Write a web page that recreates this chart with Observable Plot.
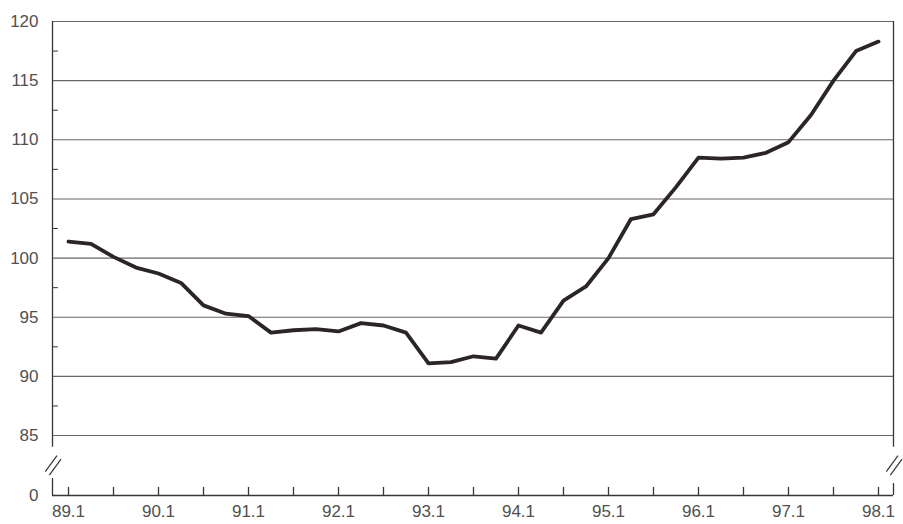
<!DOCTYPE html>
<html>
<head>
<meta charset="utf-8">
<script src="https://cdn.jsdelivr.net/npm/d3@7"></script>
<script src="https://cdn.jsdelivr.net/npm/@observablehq/plot@0.6"></script>
<style>
  html, body { margin: 0; padding: 0; background: #fff; }
  #chart { width: 903px; height: 524px; }
</style>
</head>
<body>
<div id="chart"></div>
<script>
// Quarter labels (year.quarter)
const quarters = [
  "89.1","89.2","89.3","89.4","90.1","90.2","90.3","90.4",
  "91.1","91.2","91.3","91.4","92.1","92.2","92.3","92.4",
  "93.1","93.2","93.3","93.4","94.1","94.2","94.3","94.4",
  "95.1","95.2","95.3","95.4","96.1","96.2","96.3","96.4",
  "97.1","97.2","97.3","97.4","98.1"
];
// Index values
const values = [
  101.4, 101.2, 100.1, 99.2, 98.7, 97.9, 96.0, 95.3,
  95.1, 93.7, 93.9, 94.0, 93.8, 94.5, 94.3, 93.7,
  91.1, 91.2, 91.7, 91.5, 94.3, 93.7, 96.4, 97.6,
  100.0, 103.3, 103.7, 106.0, 108.5, 108.4, 108.5, 108.9,
  109.8, 112.1, 115.0, 117.5, 118.3
];
// Axis tick values
const yGridValues = [85, 90, 95, 100, 105, 110, 115, 120];
const yMinorTicks = [87.5, 92.5, 97.5, 102.5, 107.5, 112.5, 117.5];
const xLabelYears = [89, 90, 91, 92, 93, 94, 95, 96, 97, 98];
const xHalfYearTicks = [89, 89.5, 90, 90.5, 91, 91.5, 92, 92.5, 93, 93.5, 94, 94.5, 95, 95.5, 96, 96.5, 97, 97.5, 98];

const data = quarters.map((q, i) => {
  const [yy, qq] = q.split(".").map(Number);
  return { t: yy + (qq - 1) / 4, v: values[i] };
});

const xMin = 88.8222, xMax = 98.1667;
// the axis is broken: the zero baseline is drawn just below 85
const yZeroPos = 79.93;
const yTickLabels = [{ pos: yZeroPos, label: "0" }, ...yGridValues.map(v => ({ pos: v, label: String(v) }))];

const ink = "#3a3438";
const grid = "#6a6468";

// break marks ("//")
const breakMarks = [];
for (const x0 of [xMin, xMax]) {
  for (const k of [0, 1]) {
    breakMarks.push({ x1: x0 - 0.08 + k * 0.045, y1: 81.95 - k * 0.3, x2: x0 + 0.05 + k * 0.045, y2: 83.3 - k * 0.3 });
  }
}

const chart = Plot.plot({
  width: 903,
  height: 524,
  marginLeft: 52,
  marginRight: 10,
  marginTop: 21,
  marginBottom: 29,
  style: { fontFamily: "'Liberation Sans', Arial, sans-serif", fontSize: "17px", color: "#505050", background: "#fff" },
  x: { domain: [xMin, xMax], axis: null },
  y: { domain: [yZeroPos, 120], axis: null },
  marks: [
    Plot.ruleY(yGridValues, { stroke: grid, strokeWidth: 1.1 }),
    Plot.ruleY([yZeroPos], { stroke: ink, strokeWidth: 1.3 }),
    // left axis line with break
    Plot.ruleX([xMin], { y1: 84.0, y2: 120, stroke: ink, strokeWidth: 1.3 }),
    Plot.ruleX([xMin], { y1: yZeroPos, y2: 81.37, stroke: ink, strokeWidth: 1.3 }),
    // right border with break
    Plot.ruleX([xMax], { y1: 84.0, y2: 120, stroke: ink, strokeWidth: 1.3 }),
    Plot.ruleX([xMax], { y1: yZeroPos, y2: 80.94, stroke: ink, strokeWidth: 1.3 }),
    // minor y ticks
    Plot.link(yMinorTicks, { x1: xMin, x2: xMin + 0.06, y1: d => d, y2: d => d, stroke: ink, strokeWidth: 1 }),
    // x ticks
    Plot.ruleX(xHalfYearTicks, { y1: yZeroPos, y2: yZeroPos + 0.68, stroke: ink, strokeWidth: 1.3 }),
    // break marks
    Plot.link(breakMarks, { x1: "x1", y1: "y1", x2: "x2", y2: "y2", stroke: ink, strokeWidth: 1.2 }),
    // labels
    Plot.text(yTickLabels, { x: xMin, y: "pos", text: "label", textAnchor: "end", dx: -14, fill: "#505050" }),
    Plot.text(xLabelYears, { x: d => d, y: yZeroPos, text: d => `${d}.1`, dy: 16, fill: "#505050" }),
    // data line
    Plot.line(data, { x: "t", y: "v", stroke: "#2b2428", strokeWidth: 3.8, strokeLinejoin: "round", strokeLinecap: "round" })
  ]
});

document.getElementById("chart").appendChild(chart);
</script>
</body>
</html>
